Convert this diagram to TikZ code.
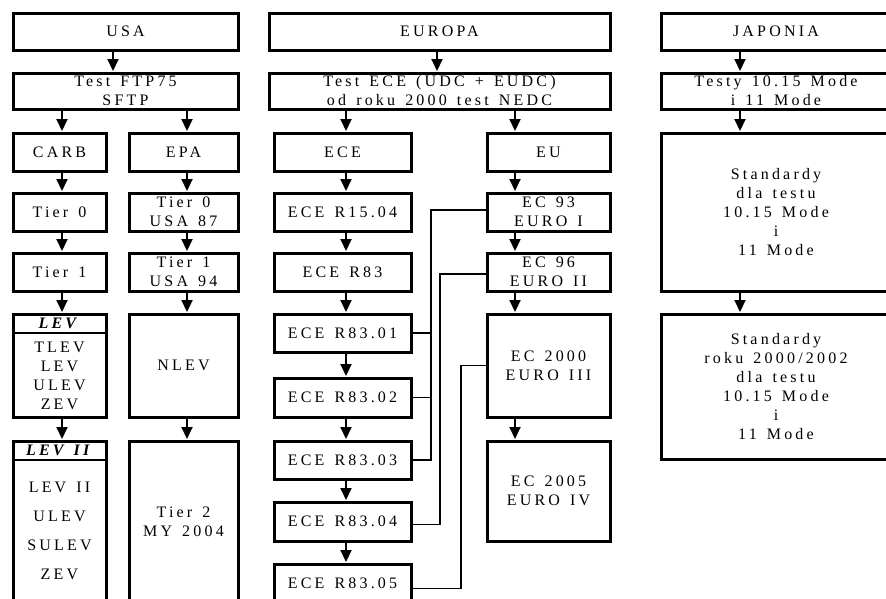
\documentclass[tikz,border=0pt]{standalone}
\usepackage{fontspec}
\setmainfont{Liberation Serif}[LetterSpace=20,WordSpace=1.4]
\usetikzlibrary{arrows.meta}
\tikzset{
  box/.style={draw, line width=3pt, rectangle, inner sep=0pt, align=center, font=\fontsize{16}{19}\selectfont},
  lbl/.style={inner sep=0pt, align=center, font=\fontsize{16}{19}\selectfont},
  arr/.style={line width=2pt, -{Triangle[width=11pt,length=12pt]}, shorten >=0.5pt},
  conn/.style={line width=1.3pt},
  hdr/.style={line width=2.2pt}
}
\newcommand\bx[6]{%
  \pgfmathsetmacro\bxcx{(#2+#4)/2}\pgfmathsetmacro\bxcy{(#3+#5)/2}%
  \pgfmathsetmacro\bxw{#4-#2}\pgfmathsetmacro\bxh{#5-#3}%
  \node[box, minimum width=\bxw pt, minimum height=\bxh pt] (#1) at (\bxcx,\bxcy) {#6};}
\begin{document}
\begin{tikzpicture}[x=1pt,y=-1pt]
\useasboundingbox (0,0) rectangle (886,598);
\fill[white] (0,0) rectangle (886,598);
\clip (0,0) rectangle (886,598);
% USA
\bx{usa}{13}{13}{238}{50}{USA}
\bx{ftp}{13}{73}{238}{109}{Test FTP75\\SFTP}
\bx{carb}{13}{133}{106}{171}{CARB}
\bx{epa}{129}{133}{238}{171}{EPA}
\bx{tz}{13}{193}{106}{231}{Tier 0}
\bx{tzu}{129}{193}{238}{231}{Tier 0\\USA 87}
\bx{to}{13}{253}{106}{291}{Tier 1}
\bx{tou}{129}{253}{238}{291}{Tier 1\\USA 94}
\bx{lev}{13}{314}{106}{417}{}
\bx{nlev}{129}{314}{238}{417}{NLEV}
\bx{levii}{13}{441}{106}{603}{}
\bx{tiertwo}{129}{441}{238}{603}{Tier 2\\MY 2004}
\draw[hdr] (13,333) -- (106,333);
\node[lbl] (levh) at (59.5,323.5) {\textbf{\textit{LEV}}};
\node[lbl] (levb) at (59.5,376) {TLEV\\LEV\\ULEV\\ZEV};
\draw[hdr] (13,460) -- (106,460);
\node[lbl] (leviih) at (59.5,450.5) {\textbf{\textit{LEV II}}};
\node[lbl, font=\fontsize{16}{29}\selectfont] (leviib) at (59.5,531) {LEV II\\ULEV\\SULEV\\ZEV};
% EUROPA
\bx{eur}{269}{13}{610}{50}{EUROPA}
\bx{ecet}{269}{73}{610}{109}{Test ECE (UDC + EUDC)\\od roku 2000 test NEDC}
\bx{ece}{274}{133}{411}{171}{ECE}
\bx{eu}{487}{133}{610}{171}{EU}
\bx{ra}{274}{193}{411}{231}{ECE R15.04}
\bx{rb}{274}{253}{411}{291}{ECE R83}
\bx{rc}{274}{314}{411}{352}{ECE R83.01}
\bx{rd}{274}{378}{411}{417}{ECE R83.02}
\bx{re}{274}{441}{411}{479}{ECE R83.03}
\bx{rf}{274}{502}{411}{541}{ECE R83.04}
\bx{rg}{274}{564}{411}{603}{ECE R83.05}
\bx{eca}{487}{193}{610}{231}{EC 93\\EURO I}
\bx{ecb}{487}{253}{610}{291}{EC 96\\EURO II}
\bx{ecc}{487}{314}{610}{417}{EC 2000\\EURO III}
\bx{ecd}{487}{441}{610}{541}{EC 2005\\EURO IV}
% JAPONIA
\bx{jap}{661}{13}{891}{50}{JAPONIA}
\bx{testy}{661}{73}{891}{109}{Testy 10.15 Mode\\i 11 Mode}
\bx{stda}{661}{133}{891}{291}{Standardy\\dla testu\\10.15 Mode\\i\\11 Mode}
\bx{stdb}{661}{314}{891}{459}{Standardy\\roku 2000/2002\\dla testu\\10.15 Mode\\i\\11 Mode}
% arrow columns
\coordinate (xa) at (113,0);
\coordinate (xb) at (62,0);
\coordinate (xc) at (187,0);
\coordinate (xd) at (437,0);
\coordinate (xe) at (346,0);
\coordinate (xf) at (515,0);
\coordinate (xg) at (740,0);
\draw[arr] (usa.south -| xa) -- (ftp.north -| xa);
\draw[arr] (ftp.south -| xb) -- (carb.north -| xb);
\draw[arr] (carb.south -| xb) -- (tz.north -| xb);
\draw[arr] (tz.south -| xb) -- (to.north -| xb);
\draw[arr] (to.south -| xb) -- (lev.north -| xb);
\draw[arr] (lev.south -| xb) -- (levii.north -| xb);
\draw[arr] (ftp.south -| xc) -- (epa.north -| xc);
\draw[arr] (epa.south -| xc) -- (tzu.north -| xc);
\draw[arr] (tzu.south -| xc) -- (tou.north -| xc);
\draw[arr] (tou.south -| xc) -- (nlev.north -| xc);
\draw[arr] (nlev.south -| xc) -- (tiertwo.north -| xc);
\draw[arr] (eur.south -| xd) -- (ecet.north -| xd);
\draw[arr] (ecet.south -| xe) -- (ece.north -| xe);
\draw[arr] (ece.south -| xe) -- (ra.north -| xe);
\draw[arr] (ra.south -| xe) -- (rb.north -| xe);
\draw[arr] (rb.south -| xe) -- (rc.north -| xe);
\draw[arr] (rc.south -| xe) -- (rd.north -| xe);
\draw[arr] (rd.south -| xe) -- (re.north -| xe);
\draw[arr] (re.south -| xe) -- (rf.north -| xe);
\draw[arr] (rf.south -| xe) -- (rg.north -| xe);
\draw[arr] (ecet.south -| xf) -- (eu.north -| xf);
\draw[arr] (eu.south -| xf) -- (eca.north -| xf);
\draw[arr] (eca.south -| xf) -- (ecb.north -| xf);
\draw[arr] (ecb.south -| xf) -- (ecc.north -| xf);
\draw[arr] (ecc.south -| xf) -- (ecd.north -| xf);
\draw[arr] (jap.south -| xg) -- (testy.north -| xg);
\draw[arr] (testy.south -| xg) -- (stda.north -| xg);
\draw[arr] (stda.south -| xg) -- (stdb.north -| xg);
% connectors EU -> ECE
\coordinate (va) at (431,0);
\coordinate (vb) at (440,0);
\coordinate (vc) at (461,0);
\coordinate (ecaw) at ([yshift=2pt]eca.west);
\coordinate (ecbw) at ([yshift=-2pt]ecb.west);
\coordinate (rfe) at ([yshift=-3pt]rf.east);
\coordinate (rge) at ([yshift=-5pt]rg.east);
\draw[conn] (ecaw) -| (va |- re.east) -- (re.east);
\draw[conn] (rc.east) -- (rc.east -| va);
\draw[conn] (rd.east) -- (rd.east -| va);
\draw[conn] (ecbw) -| (vb |- rfe) -- (rfe);
\draw[conn] (ecc.west) -| (vc |- rge) -- (rge);
\end{tikzpicture}
\end{document}
